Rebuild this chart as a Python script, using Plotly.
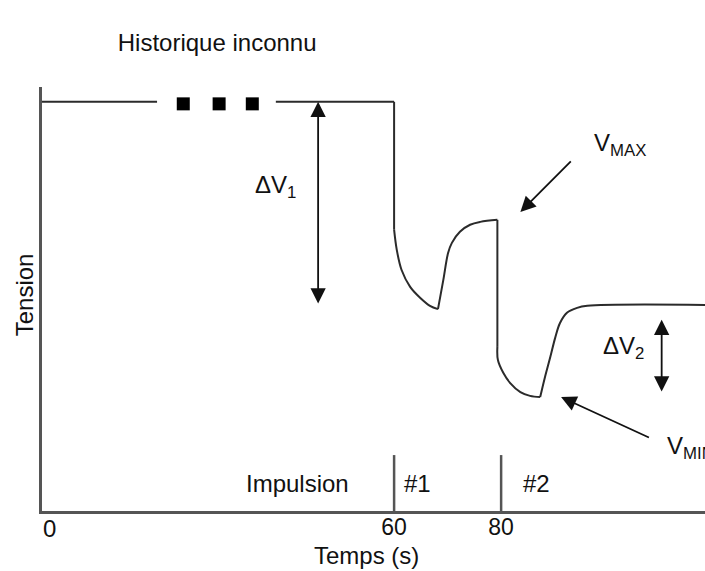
"""Schema : reponse en tension a deux impulsions (historique inconnu)"""
import plotly.graph_objects as go

t_haut_a = [-6.2, 15.7]
v_haut_a = [100, 100]
t_points = [20.6, 27.3, 33.5]
v_points = [99.5, 99.5, 99.5]
t_haut_b = [37.9, 60.0]
v_haut_b = [100, 100]

t_chute1 = [60.0, 60.0]
v_chute1 = [100, 68.9]
t_decr1 = [60.0, 60.5, 61.4, 63.0, 64.9, 66.7, 68.2]
v_decr1 = [68.9, 64.0, 59.1, 55.0, 52.3, 50.4, 49.6]
t_remont1 = [68.2, 69.2, 70.1, 70.8, 72.3, 74.2, 76.1, 79.3]
v_remont1 = [49.6, 56.7, 63.3, 65.7, 68.4, 70.1, 70.8, 71.3]

t_chute2 = [79.3, 79.3]
v_chute2 = [71.3, 40.4]
t_decr2 = [79.3, 79.4, 80.4, 81.7, 83.6, 85.4, 87.3]
v_decr2 = [40.4, 37.2, 34.1, 31.6, 29.4, 28.5, 28.2]
t_remont2 = [87.3, 88.2, 89.2, 90.1, 91.0, 92.3, 94.2, 96.1, 118.2]
v_remont2 = [28.2, 33.1, 38.0, 42.6, 46.2, 48.7, 49.9, 50.4, 50.6]

t_impulsions = [60, 80]
v_impulsion_haut = 14.1
noms_impulsions = ["#1", "#2"]
t_noms_impulsions = [61.4, 83.8]

tick_vals = [60, 80]
tick_text = ["60", "80"]

# fleches (pointe, queue)
dv1_t, dv1_haut, dv1_bas = 45.8, 100, 50.6
dv2_t, dv2_haut, dv2_bas = 110.0, 47.0, 29.2
vmax_pointe, vmax_queue = (83.6, 73.2), (93.3, 85.9)
vmin_pointe, vmin_queue = (91.2, 28.2), (107.9, 18.2)

X_RANGE = [-5.8, 118.1]
Y_RANGE = [0.5, 103.6]

POLICE = "Liberation Sans, Arial, sans-serif"
COUL_TEXTE = "#111111"
COUL_COURBE = "#2b2b2b"
COUL_AXE = "#555555"

fig = go.Figure()

lignes = [(t_haut_a, v_haut_a, "linear"), (t_haut_b, v_haut_b, "linear"),
          (t_chute1, v_chute1, "linear"), (t_decr1, v_decr1, "spline"),
          (t_remont1, v_remont1, "spline"), (t_chute2, v_chute2, "linear"),
          (t_decr2, v_decr2, "spline"), (t_remont2, v_remont2, "spline")]
for t, v, forme in lignes:
    fig.add_trace(go.Scatter(x=t, y=v, mode="lines",
                             line=dict(color=COUL_COURBE, width=2, shape=forme),
                             hoverinfo="skip"))

fig.add_trace(go.Scatter(x=t_points, y=v_points, mode="markers",
                         marker=dict(symbol="square", size=13, color="black"),
                         hoverinfo="skip"))

for t in t_impulsions:
    fig.add_trace(go.Scatter(x=[t, t], y=[0, v_impulsion_haut], mode="lines",
                             line=dict(color=COUL_AXE, width=2.5), hoverinfo="skip"))

fleche = dict(text="", showarrow=True, axref="x", ayref="y", arrowhead=2,
              arrowsize=1.7, arrowwidth=1.8, arrowcolor="#111111", standoff=0)
annots = [
    dict(fleche, x=dv1_t, y=dv1_haut, ax=dv1_t, ay=dv1_bas, arrowside="end+start",
         startarrowhead=2, startarrowsize=1.7),
    dict(fleche, x=dv2_t, y=dv2_haut, ax=dv2_t, ay=dv2_bas, arrowside="end+start",
         startarrowhead=2, startarrowsize=1.7),
    dict(fleche, x=vmax_pointe[0], y=vmax_pointe[1], ax=vmax_queue[0], ay=vmax_queue[1]),
    dict(fleche, x=vmin_pointe[0], y=vmin_pointe[1], ax=vmin_queue[0], ay=vmin_queue[1]),
]

txt = dict(showarrow=False, font=dict(family=POLICE, size=24, color=COUL_TEXTE))
annots += [
    dict(txt, x=37.8, y=79.5, text="ΔV<sub>1</sub>"),
    dict(txt, x=102.8, y=40.3, text="ΔV<sub>2</sub>"),
    dict(txt, x=97.0, y=89.5, xanchor="left", text="V<sub>MAX</sub>"),
    dict(txt, x=110.6, y=16.0, xanchor="left", text="V<sub>MIN</sub>"),
    dict(txt, x=42.0, y=7.1, text="Impulsion"),
]
for t, nom in zip(t_noms_impulsions, noms_impulsions):
    annots.append(dict(txt, x=t, y=7.1, xanchor="left", text=nom))
annots += [
    dict(txt, x=0, xref="paper", y=0, yref="paper", xanchor="left", yanchor="top",
         xshift=-1, yshift=-2, text="0"),
    dict(txt, x=0.49, xref="paper", y=0, yref="paper", yanchor="top", yshift=-29,
         text="Temps (s)"),
    dict(txt, x=0, xref="paper", y=0.51, yref="paper", xanchor="right", xshift=-2,
         textangle=-90, text="Tension"),
]

fig.update_layout(
    width=705, height=571,
    margin=dict(l=42, r=0, t=87, b=60),
    plot_bgcolor="white", paper_bgcolor="white",
    showlegend=False,
    title=dict(text="Historique inconnu", x=0.308, y=0.926, xanchor="center",
               yanchor="middle", font=dict(family=POLICE, size=24, color=COUL_TEXTE)),
    annotations=annots,
    xaxis=dict(range=X_RANGE, showgrid=False, zeroline=False, showline=True,
               linecolor=COUL_AXE, linewidth=3, tickvals=tick_vals, ticktext=tick_text,
               ticks="", ticklabelstandoff=-7,
               tickfont=dict(family=POLICE, size=23, color=COUL_TEXTE)),
    yaxis=dict(range=Y_RANGE, showgrid=False, zeroline=False, showline=True,
               linecolor=COUL_AXE, linewidth=3, showticklabels=False, ticks=""),
)

# la page html garde sinon la marge de 8 px du navigateur
fig.write_html("out.html", config={"displayModeBar": False},
               post_script="document.body.style.margin = '0';")
